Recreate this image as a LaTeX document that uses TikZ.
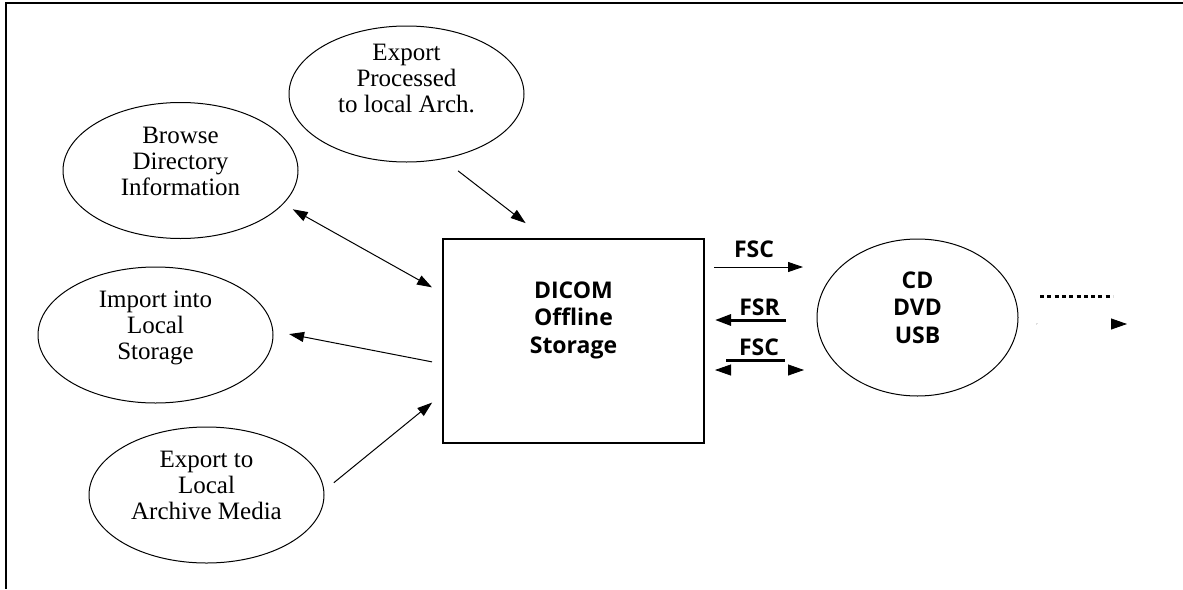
\documentclass[tikz,border=0pt]{standalone}
\usepackage{fontspec}
\setmainfont{Liberation Serif}
\newfontfamily\labelfont{Open Sans}
\usetikzlibrary{shapes.geometric,arrows.meta}

\tikzset{
  oval/.style={draw, ellipse, line width=0.5pt, inner sep=0pt, outer sep=0pt,
    minimum width=117.5pt, minimum height=68pt},
  ovaltext/.style={align=center, inner sep=0pt, font=\fontsize{12.5}{13}\selectfont},
  boldtext/.style={align=center, inner sep=0pt, font=\labelfont\bfseries\fontsize{11.5}{13.75}\selectfont},
  tag/.style={anchor=base, inner sep=0pt, font=\labelfont\bfseries\fontsize{11.5}{13.75}\selectfont},
  tip/.tip={Triangle[black,length=7.5pt,width=5pt]},
  flow/.style={line width=0.5pt, -tip},
  flowboth/.style={line width=0.5pt, tip-tip},
}

\begin{document}
\begin{tikzpicture}[x=0.5pt, y=-0.5pt]
\useasboundingbox (0,0) rectangle (1183,589);
\draw[line width=1pt] (1183,3) -- (6,3) -- (6,589);

% storage box and media
\node[draw, line width=0.75pt, inner sep=0pt, outer sep=0pt,
  minimum width=130.5pt, minimum height=102pt] (dicom) at (573.5,341) {};
\node[boldtext] (dicomtext) at ([yshift=10.5pt]dicom.center) {DICOM\\Offline\\Storage};
\node[oval, minimum width=100.5pt, minimum height=78.5pt] (cddvd) at (917.5,317.5) {};
\node[boldtext] (cddvdtext) at ([yshift=5.1pt]cddvd.center) {CD\\DVD\\USB};

% application entities
\node[oval] (exproc) at (406.5,94) {};
\node[ovaltext] (exproctext) at ([yshift=7.9pt]exproc.center) {Export\\Processed\\to local Arch.};
\node[oval] (browse) at (180.5,170.5) {};
\node[ovaltext] (browsetext) at ([yshift=4.6pt]browse.center) {Browse\\Directory\\Information};
\node[oval] (import) at (155.5,335) {};
\node[ovaltext] (importtext) at ([yshift=3.6pt]import.center) {Import into\\Local\\Storage};
\node[oval] (exlocal) at (206.5,495) {};
\node[ovaltext] (exlocaltext) at ([yshift=4.9pt]exlocal.center) {Export to\\Local\\Archive Media};

\draw[flow, shorten <=9.9pt, shorten >=13pt] (exproc.-61.4) -- (dicom.105.8);
\draw[flowboth, shorten <=5.6pt, shorten >=6.3pt] (browse.-18.3) -- (dicom.160.7);
\draw[flow, shorten <=5.6pt, shorten >=8.3pt] (dicom.190.5) -- (import.2.6);
\draw[flow, shorten <=6.5pt, shorten >=7pt] (exlocal.2.4) -- (dicom.202.6);

% file-set roles
\draw[flow, shorten <=5pt, shorten >=7pt] (dicom.east |- 0,267) -- (cddvd.west |- 0,267);
\node[tag] (fsc1) at (754,257) {FSC};
\draw[line width=1.5pt, -{Triangle[length=8pt,width=5.5pt]}, shorten <=15.5pt, shorten >=5.5pt]
  (cddvd.west |- 0,320) -- (dicom.east |- 0,320);
\node[tag] (fsr) at (759.5,315) {FSR};
\draw[line width=1.5pt] (726,360) -- (785,360);
\draw[white, {Triangle[black,length=8pt,width=5.5pt]}-{Triangle[black,length=8pt,width=5.5pt]},
  shorten <=5.5pt, shorten >=6.5pt] (dicom.east |- 0,370) -- (cddvd.west |- 0,370);
\node[tag] (fsc2) at (759,355) {FSC};

\draw[line width=1.5pt, dash pattern=on 2pt off 1.65pt] (1040,296) -- (1113,296);
\fill[gray!50] (1037,324) circle (0.4pt);
\draw[white, -{Triangle[black,length=8pt,width=5.5pt]}] (1037,324) -- (1127,324);
\end{tikzpicture}
\end{document}
